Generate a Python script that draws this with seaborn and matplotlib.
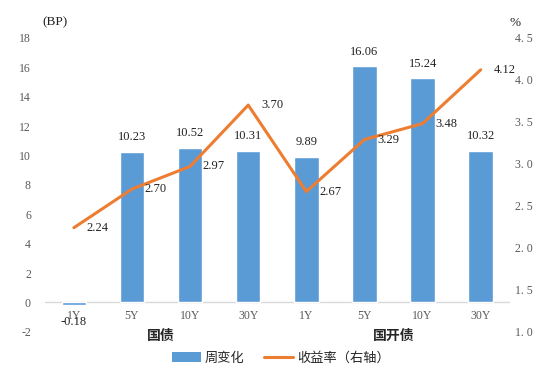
import matplotlib
matplotlib.use('Agg')
import matplotlib.pyplot as plt
import seaborn as sns
import pandas as pd
import numpy as np
from matplotlib.patches import Patch
from matplotlib.lines import Line2D

# 数据
tenors = ['1Y', '5Y', '10Y', '30Y', '1Y', '5Y', '10Y', '30Y']
groups = ['国债', '国开债']
weekly_change = [-0.18, 10.23, 10.52, 10.31, 9.89, 16.06, 15.24, 10.32]
yields = [2.24, 2.70, 2.97, 3.70, 2.67, 3.29, 3.48, 4.12]

sns.set_style('white')
plt.rcParams['font.family'] = ['Liberation Serif', 'Noto Sans CJK SC', 'DejaVu Sans']
plt.rcParams['axes.unicode_minus'] = False

blue = '#5B9BD5'
orange = '#ED7D31'
grey = '#595959'

df = pd.DataFrame({'pos': np.arange(len(tenors)), 'chg': weekly_change, 'yld': yields})

fig = plt.figure(figsize=(5.4, 3.75), dpi=100)
ax = fig.add_axes([0.083, 0.115, 0.861, 0.784])
sns.barplot(data=df, x='pos', y='chg', color=blue, width=0.42, saturation=1, ax=ax)
ax.set_ylim(-2, 18)
ax.set_yticks(np.arange(-2, 19, 2))
ax.set_xlim(-0.5, len(tenors) - 0.5)
ax.axhline(0, color='#D9D9D9', lw=1, zorder=0)
ax.set_xticks([])
ax.set_xlabel('')
ax.set_ylabel('')
ax.tick_params(axis='both', length=0, labelsize=8.5, colors=grey, pad=10)
for s in ax.spines.values():
    s.set_visible(False)

# 类别标签贴着零轴
for x, t in zip(df['pos'], tenors):
    ax.text(x, -0.5, t, ha='center', va='top', fontsize=8.5, color=grey)

for x, v in zip(df['pos'], weekly_change):
    if v >= 0:
        ax.text(x, v + 0.6, f'{v:.2f}', ha='center', va='bottom', fontsize=9, color='#222222')
    else:
        ax.text(x, v - 0.75, f'{v:.2f}', ha='center', va='top', fontsize=9, color='#222222')

ax2 = ax.twinx()
sns.lineplot(data=df, x='pos', y='yld', color=orange, lw=2.2, ax=ax2)
ax2.set_ylim(1.0, 4.5)
ax2.set_yticks(np.arange(1.0, 4.51, 0.5))
ax2.set_yticklabels([f'{t:.1f}'.replace('.', '. ') for t in np.arange(1.0, 4.51, 0.5)])
ax2.set_ylabel('')
ax2.set_xlabel('')
ax2.set_xticks([])
ax2.tick_params(axis='y', length=0, labelsize=8.5, colors=grey, pad=4)
for s in ax2.spines.values():
    s.set_visible(False)
for x, v in zip(df['pos'], yields):
    ax2.text(x + 0.22, v, f'{v:.2f}', ha='left', va='center', fontsize=9, color='#222222')

# 分组标签
for i, g in enumerate(groups):
    ax.text(1.5 + 4 * i, -2.3, g, ha='center', va='center', fontsize=10,
            fontweight='bold', family=['Noto Sans CJK SC'])

fig.text(0.078, 0.94, '(BP)', ha='left', va='center', fontsize=9.5, color='#222222')
fig.text(0.944, 0.94, '%', ha='left', va='center', fontsize=9.5, color='#222222')

handles = [Patch(facecolor=blue, edgecolor='none'), Line2D([0], [0], color=orange, lw=2.2)]
fig.legend(handles, ['周变化', '收益率（右轴）'], loc='center', bbox_to_anchor=(0.52, 0.045),
           ncol=2, frameon=False, prop={'family': 'Noto Sans CJK SC', 'size': 9.5},
           handlelength=2.2, columnspacing=1.5, handletextpad=0.3)

fig.savefig('out.png', dpi=100)
